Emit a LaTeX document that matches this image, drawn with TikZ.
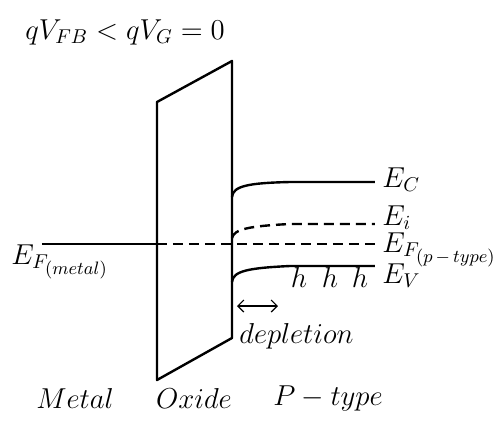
\documentclass[tikz,border=0pt]{standalone}
\usepackage{amsmath}
\usepackage{tikz}
\usetikzlibrary{arrows.meta,positioning}

\newcommand{\innersub}[1]{\text{\fontsize{9.5}{11}\selectfont$#1$}}

\begin{document}
\begin{tikzpicture}[
  x=0.5pt,y=-0.5pt,
  font=\fontsize{14.5}{17}\selectfont,
  band/.style={line width=1.2pt},
  dband/.style={line width=1.2pt,dash pattern=on 5pt off 3pt},
  lbl/.style={anchor=base west,inner sep=1pt},
  arr/.style={{Straight Barb[length=3pt]}-{Straight Barb[length=3pt]},line width=0.6pt}
]
\useasboundingbox (0,0) rectangle (500,430);

% ---- oxide (parallelogram) ----
\coordinate (oxtl) at (157,102);
\coordinate (oxtr) at (232,61);
\coordinate (oxbr) at (232,338);
\coordinate (oxbl) at (157,380);
\draw[band,line join=round] (oxtl) -- (oxtr) -- (oxbr) -- (oxbl) -- cycle;

% ---- metal Fermi level ----
\coordinate (efm) at (42,244);
\coordinate (efox) at (157,244);
\draw[band] (efm) -- (efox);
\node[anchor=base west,inner sep=0pt] (efmlbl) at (11,264) {$E_{F_{\innersub{(metal)}}}$};

% ---- bands in p-type ----
\coordinate (ec0) at (232,197);
\coordinate (ec1) at (375,182);
\coordinate (ei0) at (232,238);
\coordinate (ei1) at (375,224);
\coordinate (ev0) at (232,282);
\coordinate (ev1) at (375,266);
\coordinate (efp) at (375,244);
\draw[band] (ec0) .. controls (233,186) and (248,183) .. (290,182) -- (ec1);
\draw[dband] (ei0) .. controls (234,229) and (250,226) .. (290,224) -- (ei1);
\draw[dband] (efox) -- (efp);
\draw[band] (ev0) .. controls (233,271) and (248,268) .. (290,266) -- (ev1);

\node[lbl] (eclbl) at (380,187) {$E_C$};
\node[lbl] (eilbl) at (380,225) {$E_i$};
\node[lbl] (efplbl) at (380,252) {$E_{F_{\innersub{(p\,{-}\,type)}}}$};
\node[lbl] (evlbl) at (380,283) {$E_V$};

% holes
\foreach \hx [count=\i] in {299,330,360}
  \node[anchor=base] (h\i) at (\hx,287) {$h$};

% ---- depletion width ----
\coordinate (dl) at (237,306);
\coordinate (dr) at (278,306);
\draw[arr] (dl) -- (dr);
\node[anchor=west,inner sep=0pt] (dep) at (239,336) {$depletion$};

% ---- titles ----
\node[anchor=west,inner sep=0pt] (title) at (25,32) {$qV_{FB} < qV_G = 0$};
\node (metal) at (75,398) {$Metal$};
\node (oxide) at (194,398) {$Oxide$};
\node (ptype) at (328,398) {$P-type$};
\end{tikzpicture}
\end{document}
